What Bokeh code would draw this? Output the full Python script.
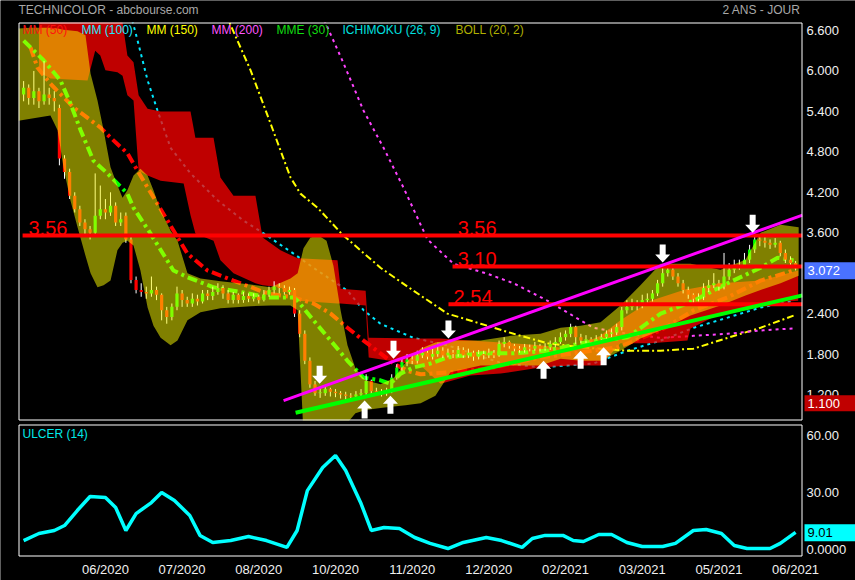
import numpy as np
from bokeh.plotting import figure
from bokeh.models import Range1d
from bokeh.core.properties import value
from bokeh.embed import file_html
from bokeh.resources import INLINE

# ---------------- data ----------------
title_text = "TECHNICOLOR - abcbourse.com"
period_text = "2 ANS - JOUR"

# x = trading-day index
x_ticks = [34, 64, 94, 124, 154, 184, 214, 244, 274, 304]
x_tick_labels = ["06/2020", "07/2020", "08/2020", "10/2020", "11/2020",
                 "12/2020", "02/2021", "03/2021", "05/2021", "06/2021"]
price_ticks = [1.2, 1.8, 2.4, 3.0, 3.6, 4.2, 4.8, 5.4, 6.0, 6.6]

bar_x = list(range(2, 306, 2))
bar_open = [5.65, 5.75, 5.6, 5.7, 5.55, 5.65, 5.6, 5.45, 4.7, 4.5,
            4.15, 3.95, 3.75, 3.65, 3.6, 3.85, 3.95, 3.9, 4.0, 3.75,
            3.85, 3.5, 2.9, 2.75, 2.72, 2.7, 2.75, 2.68, 2.45, 2.35,
            2.5, 2.7, 2.6, 2.55, 2.62, 2.58, 2.7, 2.66, 2.72, 2.78,
            2.7, 2.6, 2.68, 2.6, 2.66, 2.62, 2.65, 2.6, 2.68, 2.75,
            2.8, 2.78, 2.72, 2.75, 2.4, 2.1, 1.7, 1.35, 1.22, 1.22,
            1.28, 1.24, 1.22, 1.2, 1.18, 1.17, 1.2, 1.22, 1.4, 1.25,
            1.24, 1.22, 1.25, 1.45, 1.6, 1.68, 1.72, 1.7, 1.78, 1.82,
            1.76, 1.8, 1.85, 1.78, 1.82, 1.8, 1.86, 1.78, 1.82, 1.76,
            1.8, 1.78, 1.82, 1.78, 1.95, 1.98, 1.92, 1.88, 1.86, 1.9,
            1.88, 1.92, 1.88, 1.9, 1.95, 1.98, 2.05, 2.1, 2.2, 2.05,
            2.0, 2.02, 1.98, 2.02, 2.05, 2.1, 2.12, 2.2, 2.45, 2.5,
            2.55, 2.52, 2.6, 2.62, 2.7, 2.85, 3.0, 3.05, 2.95, 2.85,
            2.75, 2.68, 2.62, 2.65, 2.78, 2.82, 2.85, 2.8, 2.95, 3.05,
            3.1, 3.12, 3.2, 3.35, 3.5, 3.48, 3.45, 3.42, 3.45, 3.3,
            3.2, 3.15]
bar_close = [5.75, 5.6, 5.7, 5.55, 5.65, 5.6, 5.55, 4.7, 4.5, 4.15,
             3.95, 3.75, 3.65, 3.6, 3.85, 3.95, 3.9, 4.0, 3.75, 3.8,
             3.5, 2.9, 2.75, 2.72, 2.7, 2.75, 2.68, 2.45, 2.35, 2.5,
             2.7, 2.6, 2.55, 2.62, 2.58, 2.7, 2.66, 2.72, 2.78, 2.7,
             2.6, 2.68, 2.6, 2.66, 2.62, 2.65, 2.6, 2.68, 2.75, 2.8,
             2.78, 2.72, 2.75, 2.4, 2.1, 1.7, 1.35, 1.22, 1.22, 1.28,
             1.24, 1.22, 1.2, 1.18, 1.17, 1.2, 1.22, 1.4, 1.25, 1.24,
             1.22, 1.25, 1.45, 1.6, 1.68, 1.72, 1.7, 1.78, 1.82, 1.76,
             1.8, 1.85, 1.78, 1.82, 1.8, 1.86, 1.78, 1.82, 1.76, 1.8,
             1.78, 1.82, 1.78, 1.95, 1.98, 1.92, 1.88, 1.86, 1.9, 1.88,
             1.92, 1.88, 1.9, 1.95, 1.98, 2.05, 2.1, 2.2, 2.05, 2.0,
             2.02, 1.98, 2.02, 2.05, 2.1, 2.12, 2.2, 2.45, 2.5, 2.55,
             2.52, 2.6, 2.62, 2.7, 2.85, 3.0, 3.05, 2.95, 2.85, 2.75,
             2.68, 2.62, 2.65, 2.78, 2.82, 2.85, 2.8, 2.95, 3.05, 3.1,
             3.12, 3.2, 3.35, 3.5, 3.48, 3.45, 3.42, 3.45, 3.3, 3.2,
             3.15, 3.07]
bar_high = [5.85, 5.8, 6.0, 5.75, 6.15, 5.75, 5.7, 5.5, 4.75, 4.55,
            4.2, 4.0, 3.8, 3.7, 4.48, 4.3, 4.1, 4.2, 4.05, 3.9,
            3.9, 3.55, 2.95, 2.85, 2.8, 2.95, 2.8, 2.7, 2.5, 2.55,
            2.8, 2.75, 2.65, 2.7, 2.68, 2.75, 2.75, 2.8, 2.85, 2.82,
            2.75, 2.72, 2.7, 2.72, 2.7, 2.7, 2.68, 2.75, 2.8, 2.88,
            2.85, 2.82, 2.8, 2.78, 2.45, 2.15, 1.75, 1.4, 1.3, 1.32,
            1.3, 1.28, 1.25, 1.24, 1.22, 1.25, 1.28, 1.5, 1.42, 1.3,
            1.28, 1.3, 1.5, 1.65, 1.75, 1.8, 1.78, 1.85, 1.9, 1.85,
            1.88, 1.95, 1.9, 1.88, 1.86, 1.92, 1.9, 1.88, 1.85, 1.86,
            1.85, 1.88, 1.86, 2.0, 2.05, 2.0, 1.95, 1.92, 1.95, 1.94,
            1.98, 1.95, 1.96, 2.0, 2.05, 2.12, 2.15, 2.25, 2.22, 2.1,
            2.08, 2.05, 2.08, 2.1, 2.15, 2.18, 2.25, 2.5, 2.6, 2.62,
            2.6, 2.68, 2.7, 2.75, 2.9, 3.08, 3.15, 3.1, 3.0, 2.9,
            2.8, 2.7, 2.7, 2.85, 2.9, 3.0, 2.9, 3.3, 3.15, 3.2,
            3.2, 3.3, 3.42, 3.62, 3.58, 3.55, 3.5, 3.52, 3.48, 3.35,
            3.25, 3.18]
bar_low = [5.55, 5.5, 5.5, 5.45, 5.5, 5.5, 5.4, 4.6, 4.4, 4.1,
           3.9, 3.7, 3.55, 3.5, 3.55, 3.8, 3.8, 3.85, 3.7, 3.7,
           3.45, 2.85, 2.7, 2.65, 2.62, 2.65, 2.6, 2.3, 2.25, 2.3,
           2.45, 2.5, 2.5, 2.5, 2.52, 2.55, 2.6, 2.6, 2.68, 2.62,
           2.55, 2.55, 2.55, 2.56, 2.57, 2.58, 2.55, 2.58, 2.65, 2.7,
           2.7, 2.68, 2.68, 2.35, 2.05, 1.65, 1.3, 1.18, 1.15, 1.18,
           1.17, 1.16, 1.14, 1.12, 1.12, 1.14, 1.17, 1.18, 1.2, 1.19,
           1.17, 1.18, 1.22, 1.42, 1.55, 1.62, 1.65, 1.66, 1.74, 1.72,
           1.72, 1.76, 1.74, 1.75, 1.74, 1.76, 1.74, 1.74, 1.7, 1.72,
           1.72, 1.74, 1.74, 1.76, 1.9, 1.88, 1.84, 1.82, 1.82, 1.84,
           1.85, 1.84, 1.85, 1.86, 1.9, 1.95, 2.0, 2.05, 1.95, 1.96,
           1.96, 1.94, 1.95, 1.98, 2.02, 2.05, 2.08, 2.15, 2.4, 2.45,
           2.45, 2.48, 2.55, 2.58, 2.66, 2.8, 2.95, 2.9, 2.8, 2.7,
           2.62, 2.56, 2.58, 2.6, 2.72, 2.78, 2.74, 2.76, 2.9, 3.0,
           3.05, 3.08, 3.15, 3.3, 3.4, 3.38, 3.36, 3.38, 3.25, 3.15,
           3.1, 3.04]

mme30_x = [2, 9.8, 16.4, 20.3, 24.3, 29.3, 34.8, 42.6, 45, 51.6, 60.6, 66.1, 76.3,
           89.6, 97.4, 107.6, 109.2, 115.4, 122.1, 128.7, 135, 141.6, 145.5, 149.5,
           154.5, 161.2, 167.8, 180.8, 193.7, 207, 219.9, 238.3, 251.2, 264.1, 277.4,
           290.3, 297, 303.2]
mme30_y = [6.45, 6.16, 5.86, 5.52, 5.12, 4.67, 4.48, 4.18, 3.97, 3.59, 3.04, 2.94, 2.79,
           2.70, 2.64, 2.64, 2.59, 2.30, 2.00, 1.70, 1.45, 1.41, 1.36, 1.51,
           1.60, 1.66, 1.75, 1.81, 1.81, 1.85, 1.96, 2.05, 2.40, 2.59, 2.85,
           3.08, 3.23, 3.19]

mm50_x = [4.7, 7.4, 12.5, 21.5, 32.1, 36, 42.6, 46.6, 50.5, 58.3, 66.1, 73.9, 84.1,
          97.4, 107.6, 115.4, 122.1, 128.7, 135, 141.6, 146.7, 152.2, 157.3, 169,
          184.7, 204.2, 217.1, 234.4, 251.2, 264.1, 277.4, 290.3, 303.2]
mm50_y = [6.35, 6.05, 5.81, 5.46, 5.16, 5.01, 4.78, 4.52, 4.27, 3.78, 3.29, 3.04, 2.89,
          2.70, 2.64, 2.55, 2.40, 2.19, 2.00, 1.81, 1.66, 1.55, 1.50, 1.53,
          1.59, 1.75, 1.81, 1.90, 2.15, 2.45, 2.64, 2.89, 3.04]

mm100_x = [43.8, 46.6, 50.5, 54.4, 59.5, 67.3, 77.9, 88, 95.9, 107.6, 115.4, 128.7, 135,
           141.6, 154.5, 167.8, 188.6, 204.2, 225, 238.3, 251.2, 264.1, 277.4, 290.3, 303.2]
mm100_y = [6.85, 6.45, 5.86, 5.41, 4.86, 4.48, 4.08, 3.78, 3.59, 3.29, 3.08, 2.74, 2.45,
           2.25, 2.04, 1.93, 1.67, 1.60, 1.66, 1.85, 2.00, 2.19, 2.34, 2.49, 2.59]

mm150_x = [81.0, 90.8, 98.6, 106.4, 110.3, 117, 126.8, 141.6, 154.5, 167.8, 180.8,
           193.7, 207, 219.9, 238.3, 251.2, 264.1, 270.7, 277.4, 290.3, 303.2]
mm150_y = [6.85, 6.01, 5.22, 4.42, 4.18, 3.97, 3.57, 3.08, 2.74, 2.40, 2.25,
           2.10, 1.96, 1.90, 1.85, 1.85, 1.88, 1.96, 2.04, 2.19, 2.37]

mm200_x = [118.5, 127.2, 135, 142.8, 150.6, 160, 170.2, 183.5, 193.7, 207, 219.9,
           225, 238.3, 251.2, 264.1, 277.4, 290.3, 303.2]
mm200_y = [6.85, 6.11, 5.41, 4.86, 4.27, 3.50, 3.14, 2.99, 2.85, 2.59, 2.30,
           2.19, 2.10, 2.04, 2.07, 2.10, 2.15, 2.18]

cloud_x = [8.0, 12.5, 27, 30, 32, 34, 38.7, 40.7, 42.6, 45, 47, 50.5, 55.6, 64.6, 67.3,
           69.2, 76.3, 79, 84.1, 92.7, 95.5, 102.5, 109.2, 124.8, 126, 135.8, 137,
           157.3, 165.1, 176.8, 188.6, 204.2, 216, 227.7, 235.5, 247.3, 261.7, 262.9,
           274.6, 290.3, 305]
cloud_top = [6.85, 6.85, 6.85, 6.85, 6.85, 6.85, 6.85, 6.72, 6.23, 6.13, 5.64, 5.44,
             5.40, 5.40, 5.40, 5.01, 5.01, 4.42, 4.15, 4.15, 3.53, 3.34, 3.22, 3.19,
             2.77, 2.74, 2.04, 2.03, 2.03, 2.00, 1.97, 1.93, 1.88, 2.07, 2.30, 2.59,
             2.77, 2.77, 2.85, 2.89, 3.04]
cloud_bot = [5.98, 5.89, 5.86, 6.30, 6.23, 6.01, 5.98, 5.93, 5.64, 5.56, 4.52, 4.45,
             4.37, 4.33, 3.86, 3.59, 3.48, 3.19, 3.00, 2.85, 2.82, 2.79, 2.59, 2.55,
             2.55, 2.52, 1.75, 1.63, 1.36, 1.48, 1.51, 1.60, 1.63, 1.63, 1.96, 1.96,
             2.00, 2.18, 2.40, 2.55, 2.59]

boll_x = [0, 4.7, 12.5, 15.3, 17.6, 20.3, 23.1, 26.2, 28.2, 30.9, 33.3, 36, 38.7, 40.7,
          42.6, 45, 47.7, 50.5, 52.8, 55.6, 59.5, 62.2, 66.1, 71.2, 79, 90.8, 98.6,
          106.4, 109.2, 111.5, 114.2, 117.4, 120.5, 123.2, 126, 128.7, 131.8, 135.8,
          141.6, 146.7, 151.4, 157.3, 163.1, 169, 180.8, 192.5, 204.2, 212.1, 219.9,
          227.7, 235.5, 243.3, 251.2, 262.9, 274.6, 284.4, 290.3, 298.1, 305.2]
boll_up = [6.63, 6.64, 6.64, 6.63, 6.61, 6.60, 6.59, 6.53, 5.96, 5.56, 5.12, 4.57,
           4.30, 4.12, 4.23, 4.45, 4.55, 4.45, 4.23, 3.93, 3.63, 3.48, 3.00, 2.92,
           2.88, 2.83, 2.79, 2.92, 3.00, 3.37, 3.53, 3.56, 3.48, 3.11, 2.45, 1.93,
           1.59, 1.41, 1.35, 1.44, 1.67, 1.88, 1.97, 2.00, 2.00, 2.07, 2.10, 2.19,
           2.22, 2.27, 2.52, 2.82, 3.14, 3.14, 3.05, 3.20, 3.60, 3.72, 3.68]
boll_lo = [5.26, 5.29, 5.34, 5.12, 4.57, 4.08, 3.68, 3.26, 3.00, 2.79, 2.82, 2.89,
           3.34, 3.45, 3.48, 3.41, 3.04, 2.49, 2.22, 2.04, 1.93, 2.00, 2.30, 2.42,
           2.48, 2.51, 2.52, 2.52, 2.45, 0.60, 0.50, 0.50, 0.50, 0.55, 0.70, 0.78,
           0.92, 0.97, 1.00, 1.02, 1.04, 1.07, 1.18, 1.53, 1.63, 1.63, 1.63, 1.73,
           1.70, 1.70, 1.85, 2.03, 2.15, 2.37, 2.52, 2.67, 2.75, 2.85, 2.96]

levels = [3.56, 3.10, 2.54]
level_start = [1.6, 169.8, 168.2]
level_text = ["3.56", "3.56", "3.10", "2.54"]
level_text_x = [3.9, 171.8, 171.8, 170.2]
level_text_y = [3.56, 3.56, 3.10, 2.54]
resist_x = [103.7, 306.7]
resist_y = [1.11, 3.86]
support_x = [108.4, 306.7]
support_y = [0.93, 2.67]
down_arrows_x = [117.8, 146.7, 168.2, 252.0, 287.2]
down_arrows_y = [1.36, 1.73, 2.03, 3.16, 3.60]
up_arrows_x = [135.4, 145.5, 205.4, 219.9, 228.9]
up_arrows_y = [1.11, 1.18, 1.70, 1.85, 1.90]

last_price = 3.072
cloud_last = 1.100

ulcer_x = [2, 8, 14, 18, 23, 28, 34, 38, 42, 46, 52, 56, 61, 67, 71, 76, 83, 90, 97, 105,
           109, 113, 119, 124, 128, 134, 138, 143, 149, 155, 161, 168, 174, 183, 189,
           197, 201, 206, 213, 217, 221, 227, 232, 238, 244, 252, 257, 264, 269, 275,
           280, 285, 294, 298, 304]
ulcer_v = [4.7, 8.4, 10.0, 12.6, 20.5, 27.9, 27.4, 22.1, 10.0, 18.9, 24.7, 30.0, 25.8,
           17.9, 7.4, 3.7, 4.7, 6.8, 4.7, 1.1, 10.0, 31.0, 43.2, 49.5, 41.6, 24.2, 10.0,
           11.6, 11.0, 6.3, 3.2, 0.5, 3.7, 6.3, 4.7, 1.1, 5.8, 7.4, 7.4, 4.7, 4.2, 7.9,
           7.9, 3.7, 1.6, 1.6, 3.2, 10.0, 10.5, 8.4, 2.1, 0.5, 0.5, 3.2, 9.0]
ulcer_last = 9.01
ulcer_ticks = [0, 30, 60]
ulcer_tick_labels = ["0.0000", "30.00", "60.00"]

legend_text = ["MM (50)", "MM (100)", "MM (150)", "MM (200)", "MME (30)",
               "ICHIMOKU (26, 9)", "BOLL (20, 2)"]
legend_color = ["#ff1010", "#22e8ff", "#ffff00", "#ff55ff", "#11dd11", "#00e0e0", "#b0b000"]

# ---------------- page geometry (pixels of the 855x580 page) ----------------
FL, FR, FT, FB = 18, 802, 22, 420      # price panel frame
UT, UB = 424, 556                       # ulcer panel frame
X0, X1 = 0.0, 306.7
Y0, Y1 = 0.814, 6.719
U0, U1 = -3.7, 65.8
KX = (FR - FL) / (X1 - X0)
KY = (FB - FT) / (Y1 - Y0)
KU = (UB - UT) / (U1 - U0)


def X(px):
    return X0 + (px - FL) / KX


def P(py):
    return Y1 - (py - FT) / KY


def U(py):
    return U1 - (py - UT) / KU


FONT = value("Liberation Sans")

p = figure(width=855, height=580, x_range=Range1d(X(0), X(855)), y_range=Range1d(P(580), P(0)),
           output_backend="svg", toolbar_location=None, x_axis_location=None,
           y_axis_location=None, min_border=0, min_border_left=0, min_border_right=0,
           min_border_top=0, min_border_bottom=0,
           background_fill_color="black", border_fill_color="black", outline_line_color=None)
p.extra_y_ranges = {"u": Range1d(U(580), U(0))}
p.grid.visible = False

# ---- price panel ----
p.line(mm100_x, mm100_y, line_color="#00e8ff", line_width=2, line_dash="3 4")
p.line(mm150_x, mm150_y, line_color="#ffff00", line_width=2, line_dash="7 3 2 3")
p.line(mm200_x, mm200_y, line_color="#ff44ff", line_width=2, line_dash="3 4")
p.varea(x=cloud_x, y1=cloud_bot, y2=cloud_top, fill_color="#ff0000", fill_alpha=0.75)
p.line(mm50_x, mm50_y, line_color="#ff0000", line_width=4, line_dash="10 4 3 4")
p.line(mme30_x, mme30_y, line_color="#00ff00", line_width=4, line_dash="10 4 3 4")

o = np.array(bar_open)
c = np.array(bar_close)
top = np.maximum(o, c)
bot = np.minimum(o, c)
top = np.where(top - bot < 0.012, bot + 0.012, top)
cols = ["#00ff00" if cc >= oo else "#ff0000" for oo, cc in zip(bar_open, bar_close)]
p.segment(x0=bar_x, y0=bar_low, x1=bar_x, y1=bar_high, line_color="white", line_width=1)
p.vbar(x=bar_x, width=1.25, top=top, bottom=bot, fill_color=cols, line_color=None)

p.varea(x=boll_x, y1=boll_lo, y2=boll_up, fill_color="#ffff00", fill_alpha=0.5)

p.segment(x0=level_start, y0=levels, x1=[X1] * len(levels), y1=levels,
          line_color="#ff0000", line_width=4)
p.line(resist_x, resist_y, line_color="#ff00ff", line_width=3)
p.line(support_x, support_y, line_color="#00ff00", line_width=4)

shape = [(0, 0), (-7.5, 8), (-3, 8), (-3, 18), (3, 18), (3, 8), (7.5, 8)]
axs, ays = [], []
for tx, ty in zip(down_arrows_x, down_arrows_y):
    axs.append([tx + dx / KX for dx, _ in shape])
    ays.append([ty + dy / KY for _, dy in shape])
for tx, ty in zip(up_arrows_x, up_arrows_y):
    axs.append([tx + dx / KX for dx, _ in shape])
    ays.append([ty - dy / KY for _, dy in shape])
p.patches(axs, ays, fill_color="white", line_color=None)

p.text(x=level_text_x, y=[v + 7.5 / KY for v in level_text_y], text=level_text,
       text_color="#ff0000", text_font=FONT, text_font_size="20px",
       text_baseline="middle", text_align="left")

# legend row inside the frame
legend_px = [22, 81, 146, 211, 276, 342, 455]
p.text(x=[X(v) for v in legend_px], y=[P(29)] * len(legend_px), text=legend_text,
       text_color=legend_color, text_font=FONT, text_font_size="12px",
       text_baseline="middle", text_align="left")

# mask everything drawn outside the price frame
BLACK = dict(fill_color="black", line_color=None)
p.quad(left=[X(0), X(0), X(0), X1], right=[X(855), X(855), X0, X(855)],
       bottom=[Y1, P(580), Y0, Y0], top=[P(0), Y0, Y1, Y1], **BLACK)

# ---- ulcer panel ----
p.line(ulcer_x, ulcer_v, line_color="#00ffff", line_width=3.5, y_range_name="u")

# frames
p.quad(left=X(FL + 0.5), right=X(FR - 0.5), bottom=P(FB - 0.5), top=P(FT + 0.5),
       fill_color=None, line_color="white", line_width=1)
p.quad(left=X(FL + 0.5), right=X(FR - 0.5), bottom=U(UB - 0.5), top=U(UT + 0.5),
       fill_color=None, line_color="white", line_width=1, y_range_name="u")

# price tick labels
p.text(x=[X(806)] * len(price_ticks), y=price_ticks, text=[f"{t:.3f}" for t in price_ticks],
       text_color="#f0f0f0", text_font=FONT, text_font_size="13px",
       text_baseline="middle", text_align="left")
# ulcer tick labels
p.text(x=[X(806)] * len(ulcer_ticks), y=ulcer_ticks, text=ulcer_tick_labels,
       text_color="#f0f0f0", text_font=FONT, text_font_size="13px",
       text_baseline="middle", text_align="left", y_range_name="u")
# date tick labels
p.text(x=x_ticks, y=[U(569)] * len(x_ticks), text=x_tick_labels,
       text_color="#f0f0f0", text_font=FONT, text_font_size="13px",
       text_baseline="middle", text_align="center", y_range_name="u")

# value boxes
p.quad(left=[X(804), X(804)], right=[X(855), X(855)],
       bottom=[last_price - 11 / KY, cloud_last - 10 / KY],
       top=[last_price + 6 / KY, cloud_last + 6 / KY],
       fill_color=["#4a72ff", "#c00000"], line_color=None)
p.text(x=[X(807), X(807)], y=[last_price - 2.5 / KY, cloud_last - 2 / KY],
       text=[f"{last_price:.3f}", f"{cloud_last:.3f}"], text_color="white",
       text_font=FONT, text_font_size="13px", text_baseline="middle", text_align="left")
p.quad(left=X(804), right=X(855), bottom=ulcer_last - 9 / KU, top=ulcer_last + 8 / KU,
       fill_color="#00ffff", line_color=None, y_range_name="u")
p.text(x=[X(807)], y=[ulcer_last], text=[f"{ulcer_last:.2f}"], text_color="black",
       text_font=FONT, text_font_size="13px", text_baseline="middle", text_align="left",
       y_range_name="u")
p.text(x=[X(22)], y=[U(433)], text=["ULCER (14)"], text_color="#00e8e8", text_font=FONT,
       text_font_size="12px", text_baseline="middle", text_align="left", y_range_name="u")

# titles
p.text(x=[X(18)], y=[P(9)], text=[title_text], text_color="#a8a8a8", text_font=FONT,
       text_font_size="12px", text_baseline="middle", text_align="left")
p.text(x=[X(800)], y=[P(9)], text=[period_text], text_color="#a8a8a8", text_font=FONT,
       text_font_size="12px", text_baseline="middle", text_align="right")

open("out.html", "w").write(file_html(p, INLINE))
